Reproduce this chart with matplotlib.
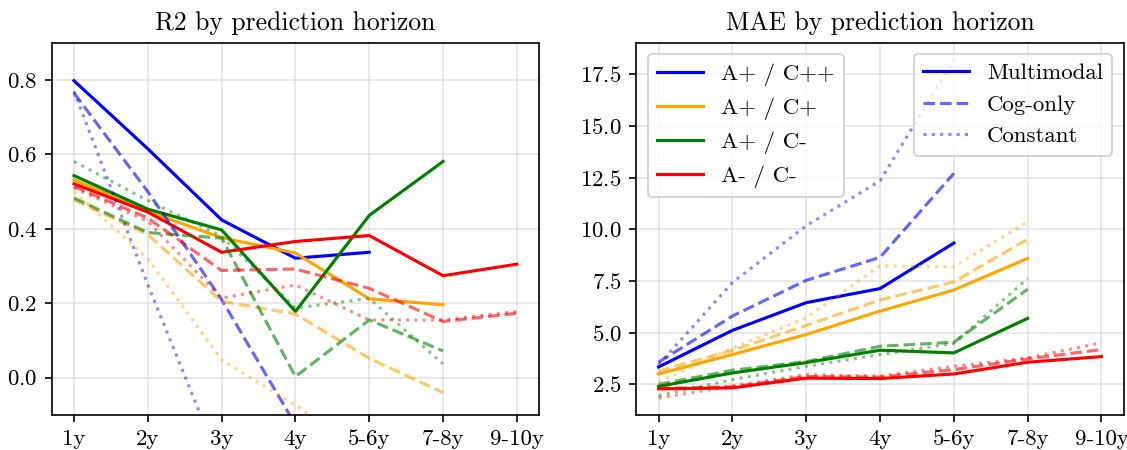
import numpy as np
import matplotlib
matplotlib.use("Agg")
import matplotlib.pyplot as plt
from matplotlib.lines import Line2D

plt.rcParams['font.family'] = ['cmr10', 'DejaVu Serif']
plt.rcParams['mathtext.fontset'] = 'cm'
plt.rcParams['axes.formatter.use_mathtext'] = True
plt.rcParams['font.size'] = 11

nan = np.nan

horizons = ["1y", "2y", "3y", "4y", "5-6y", "7-8y", "9-10y"]
groups = ["A+ / C++", "A+ / C+", "A+ / C-", "A- / C-"]
group_colors = ["blue", "orange", "green", "red"]
models = ["Multimodal", "Cog-only", "Constant"]

# R2 per group: multimodal, cog-only, constant
r2_multi = [
    [0.798, 0.615, 0.424, 0.321, 0.337, nan, nan],
    [0.532, 0.447, 0.376, 0.335, 0.212, 0.196, nan],
    [0.543, 0.453, 0.397, 0.178, 0.436, 0.581, nan],
    [0.521, 0.445, 0.337, 0.366, 0.382, 0.274, 0.305],
]
r2_cog = [
    [0.765, 0.500, 0.210, -0.126, -0.600, nan, nan],
    [0.478, 0.385, 0.205, 0.171, 0.052, -0.040, nan],
    [0.483, 0.390, 0.375, 0.003, 0.155, 0.072, nan],
    [0.514, 0.429, 0.288, 0.292, 0.240, 0.151, 0.173],
]
r2_const = [
    [0.770, 0.250, -0.240, -0.700, -1.500, nan, nan],
    [0.500, 0.320, 0.048, -0.074, -0.210, -0.350, nan],
    [0.581, 0.476, 0.380, 0.187, 0.213, 0.037, nan],
    [0.510, 0.420, 0.214, 0.249, 0.155, 0.155, 0.178],
]

# MAE per group
mae_multi = [
    [3.34, 5.11, 6.45, 7.13, 9.33, nan, nan],
    [3.00, 3.94, 4.91, 6.04, 7.06, 8.59, nan],
    [2.40, 3.05, 3.55, 4.15, 4.02, 5.69, nan],
    [2.28, 2.33, 2.80, 2.78, 3.00, 3.57, 3.84],
]
mae_cog = [
    [3.57, 5.80, 7.53, 8.64, 12.70, nan, nan],
    [3.15, 4.14, 5.35, 6.58, 7.45, 9.52, nan],
    [2.50, 3.18, 3.60, 4.34, 4.54, 7.10, nan],
    [2.30, 2.38, 2.88, 2.85, 3.21, 3.73, 4.18],
]
mae_const = [
    [3.45, 7.42, 10.17, 12.34, 18.20, nan, nan],
    [2.60, 4.25, 5.72, 8.23, 8.18, 10.36, nan],
    [1.95, 2.73, 3.37, 3.94, 4.48, 7.62, nan],
    [1.84, 2.42, 2.97, 2.90, 3.37, 3.78, 4.51],
]

styles = [("-", 1.0), ("--", 0.6), (":", 0.45)]

fig, (ax1, ax2) = plt.subplots(1, 2, figsize=(11.27 / 1.5, 3.0), dpi=150)
x = np.arange(len(horizons))

for ax, series in [(ax1, [r2_multi, r2_cog, r2_const]),
                   (ax2, [mae_multi, mae_cog, mae_const])]:
    for (ls, a), data in zip(styles, series):
        for g, c in enumerate(group_colors):
            ax.plot(x, data[g], linestyle=ls, color=c, alpha=a, lw=1.5)
    ax.set_xticks(x)
    ax.set_xticklabels(horizons)
    ax.grid(True, color="#dddddd", lw=0.8, alpha=0.8)

ax1.set_ylim(-0.1, 0.9)
ax1.set_yticks([0.0, 0.2, 0.4, 0.6, 0.8])
ax1.set_title("R2 by prediction horizon", fontsize=12.3)
ax2.set_title("MAE by prediction horizon", fontsize=12.3)

# legends
group_handles = [Line2D([], [], color=c, lw=1.5) for c in group_colors]
leg1 = ax2.legend(group_handles, groups, loc="upper left")
ax2.add_artist(leg1)
model_handles = [Line2D([], [], color="blue", linestyle=ls, alpha=a, lw=1.5)
                 for ls, a in styles]
ax2.legend(model_handles, models, loc="upper right")

fig.subplots_adjust(left=0.046, right=0.997, bottom=0.078, top=0.905, wspace=0.2)
fig.savefig("out.png")
